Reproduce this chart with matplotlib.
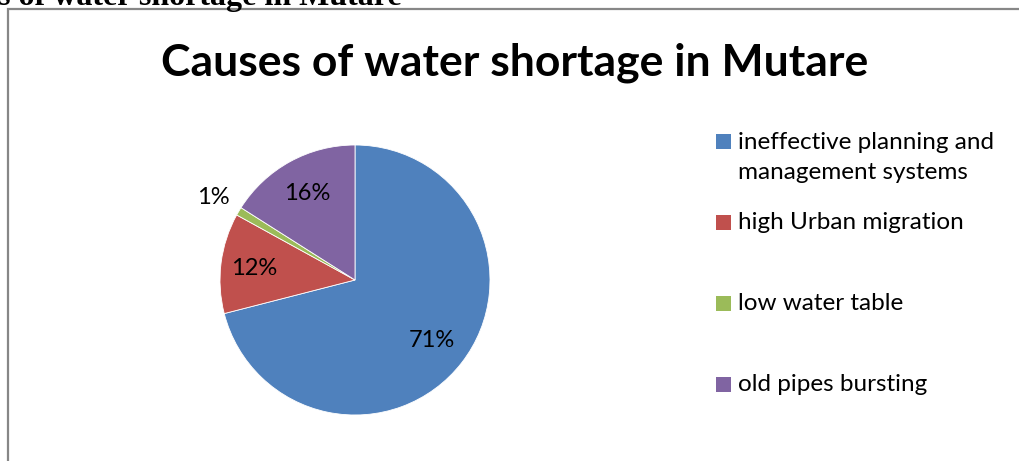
import matplotlib

matplotlib.use("Agg")
import matplotlib.pyplot as plt
from matplotlib.patches import Rectangle
import numpy as np

causes = [
    "ineffective planning and\nmanagement systems",
    "high Urban migration",
    "low water table",
    "old pipes bursting",
]
shares = [71, 12, 1, 16]
colors = ["#4F81BD", "#C0504D", "#9BBB59", "#8064A2"]
label_radius = [0.72, 0.75, 1.22, 0.74]

W, H = 1019, 461
fig = plt.figure(figsize=(W / 100, H / 100), dpi=100)

# clipped caption line above the chart frame
fig.text(-2 / W, 1 - 5 / H, "s of water shortage in Mutare", family="Liberation Serif",
         weight="bold", fontsize=23, ha="left", va="baseline")

# chart frame, running off the right and bottom edges
fig.patches.append(Rectangle((8 / W, -0.1), 1.2, 1 - 9 / H + 0.1, transform=fig.transFigure,
                             fill=False, edgecolor="#878787", linewidth=1.6))

fig.text(515 / W, 1 - 63 / H, "Causes of water shortage in Mutare", family="Lato",
         weight="bold", fontsize=32, ha="center", va="center")

cx, cy, r = 355, 280, 135
ax = fig.add_axes([(cx - r) / W, 1 - (cy + r) / H, 2 * r / W, 2 * r / H])
wedges, _ = ax.pie(shares, colors=colors, startangle=90, counterclock=False, radius=1,
                   wedgeprops=dict(edgecolor="white", linewidth=0.6))
ax.set_xlim(-1, 1)
ax.set_ylim(-1, 1)
ax.axis("off")

for w, val, lr in zip(wedges, shares, label_radius):
    mid = np.deg2rad((w.theta1 + w.theta2) / 2)
    ax.text(lr * np.cos(mid), lr * np.sin(mid) - 0.01, f"{val}%", family="Lato",
            fontsize=17, ha="center", va="center", clip_on=False)

# legend
first_line_y = [142, 222, 303, 384]
for name, col, y in zip(causes, colors, first_line_y):
    fig.patches.append(Rectangle((716 / W, 1 - (y + 7.5) / H), 15 / W, 15 / H,
                                 transform=fig.transFigure, facecolor=col, edgecolor="none"))
    fig.text(738 / W, 1 - (y - 10) / H, name, family="Lato", fontsize=17.5,
             ha="left", va="top", linespacing=1.55)

fig.savefig("out.png", dpi=100)
